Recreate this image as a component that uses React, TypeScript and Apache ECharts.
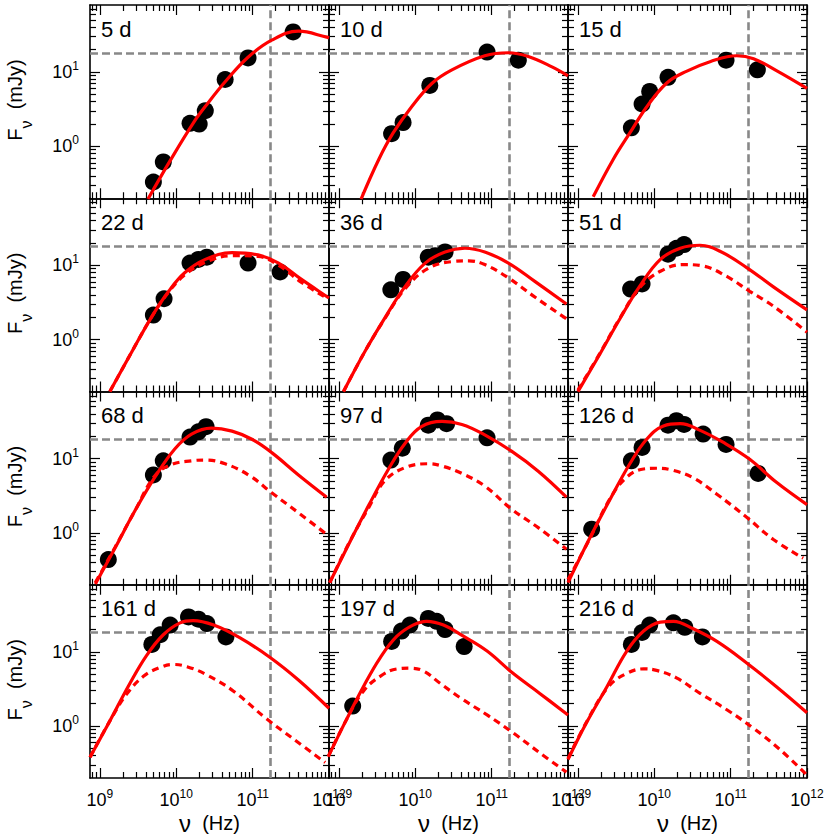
import React, { useEffect, useRef } from "react";
import * as echarts from "echarts";

// All values are log10: x = log10(nu / Hz), y = log10(F_nu / mJy)
const panelLabels = ["5 d", "10 d", "15 d", "22 d", "36 d", "51 d", "68 d", "97 d", "126 d", "161 d", "197 d", "216 d"];

const xTickExponents = [9, 10, 11, 12];
const yTickExponents = [0, 1];

const REF_LOG_F = 1.26; // horizontal reference level (~18 mJy)
const REF_LOG_NU = 11.227; // vertical reference frequency (~1.7e11 Hz)

// observed points
const obs5d = [[9.70, -0.48], [9.83, -0.21], [10.18, 0.31], [10.30, 0.30], [10.38, 0.48], [10.64, 0.90], [10.94, 1.19], [11.53, 1.54]];
const obs10d = [[9.69, 0.17], [9.84, 0.32], [10.19, 0.82], [10.94, 1.27], [11.35, 1.16]];
const obs15d = [[9.70, 0.25], [9.84, 0.57], [9.94, 0.74], [10.18, 0.93], [10.94, 1.16], [11.35, 1.03]];
const obs22d = [[9.70, 0.33], [9.84, 0.55], [10.18, 1.03], [10.29, 1.08], [10.40, 1.11], [10.94, 1.03], [11.36, 0.91]];
const obs36d = [[9.68, 0.67], [9.84, 0.81], [10.17, 1.11], [10.26, 1.13], [10.39, 1.18]];
const obs51d = [[9.69, 0.68], [9.84, 0.75], [10.18, 1.15], [10.29, 1.23], [10.39, 1.28]];
const obs68d = [[9.11, -0.36], [9.70, 0.78], [9.83, 0.97], [10.18, 1.29], [10.29, 1.36], [10.39, 1.43]];
const obs97d = [[9.68, 0.98], [9.83, 1.14], [10.17, 1.45], [10.29, 1.52], [10.41, 1.47], [10.94, 1.28]];
const obs126d = [[9.18, 0.05], [9.70, 0.97], [9.84, 1.15], [10.18, 1.45], [10.29, 1.51], [10.39, 1.46], [10.64, 1.33], [10.94, 1.19], [11.36, 0.80]];
const obs161d = [[9.68, 1.10], [9.79, 1.23], [9.92, 1.36], [10.16, 1.47], [10.29, 1.44], [10.40, 1.38], [10.65, 1.20]];
const obs197d = [[9.18, 0.27], [9.69, 1.14], [9.82, 1.28], [9.93, 1.36], [10.17, 1.45], [10.28, 1.41], [10.39, 1.30], [10.64, 1.07]];
const obs216d = [[9.70, 1.10], [9.84, 1.26], [9.94, 1.36], [10.25, 1.39], [10.40, 1.33], [10.63, 1.20]];

// total model (solid)
const fit5d = [[9.63, -0.71], [9.91, -0.21], [10.22, 0.31], [10.42, 0.59], [10.64, 0.87], [10.94, 1.20], [11.25, 1.43], [11.60, 1.55], [11.97, 1.47], [12.0, 1.46]];
const fit10d = [[9.29, -0.71], [9.52, -0.18], [9.71, 0.18], [9.95, 0.53], [10.22, 0.85], [10.48, 1.03], [10.91, 1.22], [11.22, 1.26], [11.48, 1.21], [11.79, 1.07], [12.0, 0.95]];
const fit15d = [[9.20, -0.68], [9.46, -0.18], [9.68, 0.18], [9.90, 0.53], [10.16, 0.85], [10.42, 1.01], [10.73, 1.14], [11.08, 1.22], [11.30, 1.18], [11.60, 1.02], [12.0, 0.78]];
const fit22d = [[9.13, -0.70], [9.42, -0.16], [9.68, 0.31], [9.90, 0.65], [10.11, 0.90], [10.38, 1.08], [10.73, 1.17], [11.07, 1.14], [11.34, 1.03], [11.64, 0.81], [11.97, 0.58], [12.0, 0.56]];
const fit36d = [[9.06, -0.70], [9.34, -0.16], [9.60, 0.29], [9.87, 0.72], [10.13, 1.03], [10.39, 1.18], [10.65, 1.23], [10.91, 1.18], [11.22, 1.03], [11.57, 0.78], [11.98, 0.48]];
const fit51d = [[9.00, -0.70], [9.29, -0.19], [9.55, 0.28], [9.81, 0.72], [10.08, 1.08], [10.34, 1.23], [10.60, 1.27], [10.86, 1.19], [11.21, 0.97], [11.56, 0.71], [12.0, 0.40]];
const fit68d = [[8.94, -0.69], [9.20, -0.20], [9.46, 0.30], [9.72, 0.75], [9.98, 1.13], [10.20, 1.33], [10.46, 1.41], [10.73, 1.37], [10.99, 1.26], [11.25, 1.08], [11.60, 0.78], [11.97, 0.48]];
const fit97d = [[8.88, -0.67], [9.12, -0.17], [9.39, 0.37], [9.65, 0.86], [9.87, 1.21], [10.08, 1.43], [10.35, 1.50], [10.61, 1.46], [10.91, 1.32], [11.26, 1.10], [11.61, 0.83], [11.98, 0.48]];
const fit126d = [[8.87, -0.67], [9.16, -0.06], [9.42, 0.45], [9.68, 0.93], [9.90, 1.26], [10.12, 1.44], [10.34, 1.47], [10.60, 1.38], [10.90, 1.22], [11.25, 0.99], [11.60, 0.68], [12.0, 0.38]];
const fit161d = [[8.87, -0.42], [9.13, 0.07], [9.39, 0.57], [9.61, 0.95], [9.83, 1.23], [10.05, 1.39], [10.22, 1.42], [10.49, 1.36], [10.83, 1.19], [11.22, 0.93], [11.60, 0.62], [12.0, 0.24]];
const fit197d = [[8.86, -0.41], [9.10, 0.09], [9.32, 0.53], [9.54, 0.92], [9.76, 1.21], [9.97, 1.36], [10.15, 1.41], [10.37, 1.36], [10.63, 1.21], [10.94, 1.01], [11.28, 0.71], [11.63, 0.44], [12.0, 0.15]];
const fit216d = [[8.87, -0.45], [9.11, 0.04], [9.38, 0.53], [9.64, 1.01], [9.86, 1.28], [10.08, 1.40], [10.25, 1.41], [10.51, 1.31], [10.82, 1.14], [11.21, 0.85], [11.60, 0.53], [12.0, 0.18]];

// second component (dashed)
const comp22d = [[9.13, -0.70], [9.42, -0.16], [9.68, 0.31], [9.90, 0.64], [10.11, 0.87], [10.38, 1.04], [10.73, 1.13], [11.07, 1.12], [11.34, 1.00], [11.64, 0.77], [11.97, 0.56]];
const comp36d = [[9.06, -0.70], [9.34, -0.16], [9.60, 0.28], [9.87, 0.69], [10.17, 0.96], [10.48, 1.05], [10.70, 1.06], [10.91, 1.01], [11.22, 0.83], [11.57, 0.57], [11.98, 0.28]];
const comp51d = [[9.00, -0.68], [9.29, -0.18], [9.55, 0.29], [9.81, 0.70], [10.08, 0.92], [10.38, 1.01], [10.64, 0.99], [10.95, 0.85], [11.25, 0.65], [11.56, 0.45], [12.0, 0.10]];
const comp68d = [[8.94, -0.67], [9.20, -0.19], [9.46, 0.30], [9.72, 0.77], [9.94, 0.92], [10.20, 0.97], [10.38, 0.98], [10.64, 0.93], [10.96, 0.77], [11.25, 0.54], [11.60, 0.27], [11.97, -0.02]];
const comp97d = [[8.88, -0.67], [9.12, -0.16], [9.39, 0.34], [9.60, 0.70], [9.87, 0.88], [10.17, 0.93], [10.35, 0.90], [10.61, 0.80], [10.91, 0.63], [11.26, 0.32], [11.61, 0.07], [11.98, -0.22]];
const comp126d = [[8.87, -0.63], [9.16, -0.07], [9.42, 0.46], [9.64, 0.75], [9.86, 0.86], [10.03, 0.87], [10.25, 0.84], [10.51, 0.74], [10.82, 0.52], [11.21, 0.21], [11.56, -0.09], [11.95, -0.34]];
const comp161d = [[8.87, -0.42], [9.13, 0.07], [9.35, 0.43], [9.57, 0.67], [9.79, 0.79], [9.96, 0.83], [10.14, 0.80], [10.40, 0.69], [10.75, 0.47], [11.18, 0.10], [11.53, -0.17], [11.95, -0.49]];
const comp197d = [[8.86, -0.41], [9.10, 0.09], [9.32, 0.47], [9.54, 0.67], [9.76, 0.77], [9.93, 0.78], [10.11, 0.74], [10.32, 0.58], [10.59, 0.38], [10.94, 0.15], [11.28, -0.09], [11.63, -0.36], [11.98, -0.62]];
const comp216d = [[8.87, -0.44], [9.11, 0.05], [9.40, 0.53], [9.64, 0.71], [9.86, 0.77], [10.03, 0.75], [10.29, 0.65], [10.60, 0.44], [10.95, 0.22], [11.30, -0.03], [11.65, -0.32], [12.0, -0.66]];

const obsSets = [obs5d, obs10d, obs15d, obs22d, obs36d, obs51d, obs68d, obs97d, obs126d, obs161d, obs197d, obs216d];
const fitSets = [fit5d, fit10d, fit15d, fit22d, fit36d, fit51d, fit68d, fit97d, fit126d, fit161d, fit197d, fit216d];
const compSets: (number[][] | null)[] = [null, null, null, comp22d, comp36d, comp51d, comp68d, comp97d, comp126d, comp161d, comp197d, comp216d];

// axis ranges (log10 units)
const X_MIN = 8.87;
const X_MAX = 12;
const Y_MIN = Math.log10(0.2);
const Y_MAX = Math.log10(80);

const FONT = "'Liberation Sans', Arial, Helvetica, sans-serif";

function minorTicks(nFrom: number, nTo: number, lo: number, hi: number) {
  const out: number[] = [];
  for (let n = nFrom; n <= nTo; n++) {
    for (let k = 2; k <= 9; k++) {
      const v = n + Math.log10(k);
      if (v > lo + 0.004 && v < hi - 0.004) out.push(v);
    }
  }
  return out;
}
const X_MINOR = minorTicks(8, 11, X_MIN, X_MAX);
const Y_MINOR = minorTicks(-1, 1, Y_MIN, Y_MAX);

const labelRich = {
  b: { fontSize: 18, lineHeight: 24, fontFamily: FONT, color: "#000" },
  s: { fontSize: 12, lineHeight: 14, verticalAlign: "top", fontFamily: FONT, color: "#000" },
};

function xAxisCfg(gridIndex: number, position: string, major: boolean, labels: boolean) {
  return {
    type: "value",
    gridIndex,
    position,
    min: X_MIN,
    max: X_MAX,
    silent: true,
    axisLine: { show: major, onZero: false, lineStyle: { color: "#000", width: 1.6 } },
    axisTick: {
      show: true,
      inside: true,
      length: major ? 10 : 6,
      customValues: major ? xTickExponents : X_MINOR,
      lineStyle: { color: "#000", width: 1.2 },
    },
    axisLabel: labels
      ? {
          show: true,
          customValues: xTickExponents,
          margin: 10,
          formatter: (v: number) => `{b|10}{s|${Math.round(v)}}`,
          rich: labelRich,
        }
      : { show: false },
    splitLine: { show: false },
    minorTick: { show: false },
    axisPointer: { show: false },
  };
}

function yAxisCfg(gridIndex: number, position: string, major: boolean, labels: boolean) {
  return {
    type: "value",
    gridIndex,
    position,
    min: Y_MIN,
    max: Y_MAX,
    silent: true,
    axisLine: { show: major, onZero: false, lineStyle: { color: "#000", width: 1.6 } },
    axisTick: {
      show: true,
      inside: true,
      length: major ? 10 : 6,
      customValues: major ? yTickExponents : Y_MINOR,
      lineStyle: { color: "#000", width: 1.2 },
    },
    axisLabel: labels
      ? {
          show: true,
          customValues: yTickExponents,
          margin: 11,
          formatter: (v: number) => `{b|10}{s|${Math.round(v)}}`,
          rich: labelRich,
        }
      : { show: false },
    splitLine: { show: false },
    minorTick: { show: false },
    axisPointer: { show: false },
  };
}

function buildOption() {
  const GRID_LEFT = 90;
  const COL_W = 239;
  const GRID_TOP = 5;
  const ROW_H = 193.25;

  const grids: any[] = [];
  const xAxes: any[] = [];
  const yAxes: any[] = [];
  const series: any[] = [];
  const graphics: any[] = [];

  for (let g = 0; g < 12; g++) {
    const r = Math.floor(g / 3);
    const c = g % 3;
    const left = GRID_LEFT + c * COL_W;
    const top = GRID_TOP + r * ROW_H;
    grids.push({ left, top, width: COL_W, height: ROW_H, containLabel: false, outerBoundsMode: "none" });

    const xi = xAxes.length;
    xAxes.push(xAxisCfg(g, "bottom", true, r === 3));
    xAxes.push(xAxisCfg(g, "bottom", false, false));
    xAxes.push(xAxisCfg(g, "top", true, false));
    xAxes.push(xAxisCfg(g, "top", false, false));
    const yi = yAxes.length;
    yAxes.push(yAxisCfg(g, "left", true, c === 0));
    yAxes.push(yAxisCfg(g, "left", false, false));
    yAxes.push(yAxisCfg(g, "right", true, false));
    yAxes.push(yAxisCfg(g, "right", false, false));

    series.push({
      type: "scatter",
      name: panelLabels[g] + " data",
      xAxisIndex: xi,
      yAxisIndex: yi,
      data: obsSets[g],
      symbol: "circle",
      symbolSize: 17,
      itemStyle: { color: "#000", opacity: 1, borderWidth: 0 },
      z: 6,
      silent: true,
      markLine: {
        silent: true,
        z: 1,
        symbol: ["none", "none"],
        label: { show: false },
        emphasis: { disabled: true },
        lineStyle: { color: "#888888", width: 2.6, type: [8, 4], opacity: 1 },
        data: [{ yAxis: REF_LOG_F }, { xAxis: REF_LOG_NU }],
      },
    });
    const comp = compSets[g];
    if (comp) {
      series.push({
        type: "line",
        name: panelLabels[g] + " component",
        xAxisIndex: xi,
        yAxisIndex: yi,
        data: comp,
        symbol: "none",
        showSymbol: false,
        smooth: 0.4,
        silent: true,
        z: 7,
        lineStyle: { color: "#ff0000", width: 3.2, type: [7, 5], opacity: 1 },
      });
    }
    series.push({
      type: "line",
      name: panelLabels[g] + " model",
      xAxisIndex: xi,
      yAxisIndex: yi,
      data: fitSets[g],
      symbol: "none",
      showSymbol: false,
      smooth: 0.4,
      silent: true,
      z: 8,
      lineStyle: { color: "#ff0000", width: 3.2, opacity: 1 },
    });

    graphics.push({
      type: "text",
      x: left + 11,
      y: top + 24,
      z: 20,
      silent: true,
      style: {
        text: panelLabels[g],
        fontSize: 22,
        fontFamily: FONT,
        fill: "#000",
        align: "left",
        verticalAlign: "middle",
        textAlign: "left",
        textVerticalAlign: "middle",
      },
    });
  }

  for (let r = 0; r < 4; r++) {
    const top = GRID_TOP + r * ROW_H;
    graphics.push({
      type: "text",
      x: 15,
      y: top + 95,
      rotation: Math.PI / 2,
      z: 20,
      silent: true,
      style: {
        text: "{F|F}{n|ν}{r|  (mJy)}",
        align: "center",
        verticalAlign: "middle",
        textAlign: "center",
        textVerticalAlign: "middle",
        fill: "#000",
        rich: {
          F: { fontSize: 20, lineHeight: 38, fontFamily: FONT, fill: "#000" },
          n: { fontSize: 16, lineHeight: 15, verticalAlign: "bottom", fontFamily: FONT, fill: "#000" },
          r: { fontSize: 20, lineHeight: 38, fontFamily: FONT, fill: "#000" },
        },
      },
    });
  }
  for (let c = 0; c < 3; c++) {
    const left = GRID_LEFT + c * COL_W;
    graphics.push({
      type: "text",
      x: left + COL_W / 2,
      y: 823,
      z: 20,
      silent: true,
      style: {
        text: "{n|ν}{r|  (Hz)}",
        align: "center",
        verticalAlign: "middle",
        textAlign: "center",
        textVerticalAlign: "middle",
        fill: "#000",
        rich: {
          n: { fontSize: 24, fontFamily: FONT, fill: "#000" },
          r: { fontSize: 20, fontFamily: FONT, fill: "#000" },
        },
      },
    });
  }

  return {
    animation: false,
    backgroundColor: "#fff",
    textStyle: { fontFamily: FONT, color: "#000" },
    grid: grids,
    xAxis: xAxes,
    yAxis: yAxes,
    series,
    graphic: { elements: graphics },
  };
}

export default function App() {
  const ref = useRef<HTMLDivElement>(null);
  useEffect(() => {
    document.body.style.margin = "0";
    const chart = echarts.init(ref.current as HTMLDivElement, undefined, { renderer: "svg" });
    chart.setOption(buildOption() as any);
    return () => chart.dispose();
  }, []);
  return <div ref={ref} style={{ width: 830, height: 840 }} />;
}
